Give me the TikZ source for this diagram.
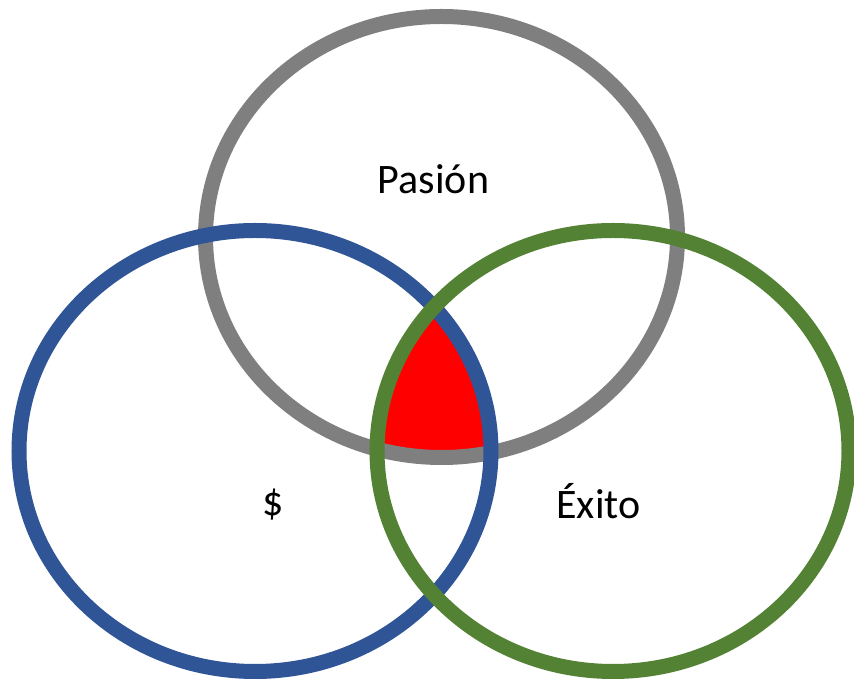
\documentclass[tikz,border=0pt]{standalone}
\usepackage{fontspec}
\setmainfont{Carlito}
\definecolor{PasionGray}{HTML}{7F7F7F}
\definecolor{DineroBlue}{HTML}{2F5597}
\definecolor{ExitoGreen}{HTML}{548235}
\definecolor{CoreRed}{HTML}{FF0000}

\begin{document}
\begin{tikzpicture}[x=.75pt,y=-.75pt,
    venn/.style={x radius=236,y radius=220.5},
    ring/.style={line width=11.25pt},
    lbl/.style={font=\fontsize{31.5}{38}\selectfont,anchor=base,inner sep=0pt}]
  \useasboundingbox (0,0) rectangle (854,680);
  \coordinate (pasion) at (441.5,237);
  \coordinate (dinero) at (255,451);
  \coordinate (exito) at (613,451);
  % common core
  \begin{scope}
    \clip (pasion) ellipse [venn];
    \clip (dinero) ellipse [venn];
    \fill[CoreRed] (exito) ellipse [venn];
  \end{scope}
  \draw[ring,PasionGray] (pasion) ellipse [venn];
  \draw[ring,DineroBlue] (dinero) ellipse [venn];
  \draw[ring,ExitoGreen] (exito) ellipse [venn];
  \node[lbl] (pasionlbl) at (433.5,194) {Pasión};
  \node[lbl] (dinerolbl) at (273,516) {\$};
  \node[lbl] (exitolbl) at (598.5,519) {Éxito};
\end{tikzpicture}
\end{document}
